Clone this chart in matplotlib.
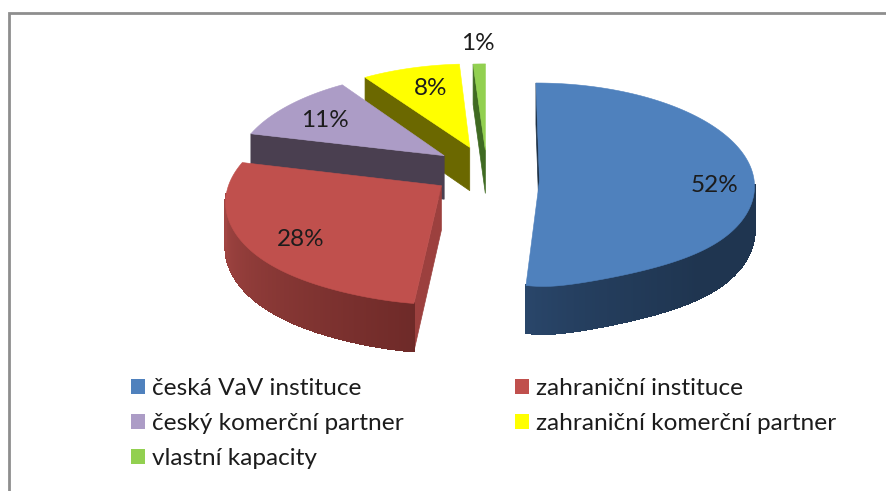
"""Exploded 3-D style pie: podíl partnerů, drawn by hand on a pixel-sized axes."""
import matplotlib
matplotlib.use("Agg")
import matplotlib.pyplot as plt
import numpy as np
from matplotlib.collections import PolyCollection
from matplotlib.colors import to_rgb
from matplotlib.patches import Patch, Polygon

plt.rcParams["font.family"] = ["Lato", "DejaVu Sans"]

categories = ["česká VaV instituce", "zahraniční instituce", "český komerční partner",
              "zahraniční komerční partner", "vlastní kapacity"]
shares = [52, 28, 11, 8, 1]

top_colors = ["#4f81bd", "#c0504d", "#ac9cc6", "#ffff00", "#92d050"]
wall_colors = ["#1c3045", "#9c403e", "#4a3f50", "#6b6800", "#3f6a22"]
rim_right = ["#1f3550", "#6e2a28", "#4a3f50", "#6b6800", "#3f6a22"]
rim_left = ["#2f4f78", "#a34643", "#4a3f50", "#6b6800", "#3f6a22"]

# projection of the unit disc onto the picture
CX, CY = 486, 181
A, B = 214, 101
K = 0.07
DEPTH = 44
EXPLODE = 0.25
APEX_SHIFT = [(0, 3), (-1, -8), (-3, -8), (-1, -8), (0, -5)]
NUDGE = [(0, -5), (2, -1), (3, -2), (1, -2), (1, -1)]
FRONT_SQUEEZE = [0.42, 0.15, 0, 0, 0]
LABEL_XY = [(715, 185), (301, 239), (325, 120), (431, 88), (478, 43)]
LABEL_PT = 17.5
LEGEND_PT = 17.6


def project(u, v, h=0.0):
    w = 1 + K * v
    return CX + A * u / w, CY - B * v / w + h * DEPTH / w


def rim_point(ou, ov, th, i):
    # the front of the picture squeezes the cuts towards the centre line
    squeeze = 1 - FRONT_SQUEEZE[i] * np.clip(-np.cos(th), 0, 1) ** 8
    return ou + np.sin(th) * squeeze, ov + np.cos(th)


def mix(c0, c1, t):
    return tuple((1 - t) * a + t * b for a, b in zip(to_rgb(c0), to_rgb(c1)))


def draw_slice(ax, start, end, i):
    z = 2 + 2 * (len(shares) - i)
    dx, dy = NUDGE[i]
    mid = np.radians((start + end) / 2)
    ou, ov = EXPLODE * np.sin(mid), EXPLODE * np.cos(mid)
    th = np.radians(np.arange(start, end, 0.5).tolist() + [end])
    u, v = rim_point(ou, ov, th, i)
    x, y = project(u, v)
    x, y = x + dx, y + dy
    ax0, ay0 = project(ou, ov)
    ax0, ay0 = ax0 + dx + APEX_SHIFT[i][0], ay0 + dy + APEX_SHIFT[i][1]
    depth0 = project(ou, ov, 1)[1] - project(ou, ov)[1]

    # wall on the leading cut edge
    y1b = project(u[0], v[0], 1)[1] + dy
    ax.add_patch(Polygon([(ax0, ay0), (x[0], y[0]), (x[0], y1b), (ax0, ay0 + depth0)],
                         closed=True, fc=wall_colors[i], ec=wall_colors[i], lw=0.5, zorder=z))

    # outer rim, front half only, shaded strip by strip
    keep = (th >= np.radians(94)) & (th <= 3 * np.pi / 2)
    if keep.sum() > 1:
        tk = th[keep]
        uk, vk = rim_point(ou, ov, tk, i)
        xt, yt = project(uk, vk)
        xb, yb = project(uk, vk, 1)
        xt, xb, yt, yb = xt + dx, xb + dx, yt + dy, yb + dy
        quads, cols = [], []
        for j in range(len(tk) - 1):
            quads.append([(xt[j], yt[j]), (xt[j + 1], yt[j + 1]), (xb[j + 1], yb[j + 1]), (xb[j], yb[j])])
            deg = np.degrees(tk[j])
            t = (deg - 187) / 83 if i == 1 else min(1, max(0, ((deg - 90) / 180 - 0.25) * 2.2))
            cols.append(mix(rim_right[i], rim_left[i], t))
        ax.add_collection(PolyCollection(quads, facecolors=cols, edgecolors=cols, linewidths=1.0,
                                         antialiaseds=False, zorder=z))

    ax.add_patch(Polygon([(ax0, ay0)] + list(zip(x, y)), closed=True, fc=top_colors[i],
                         ec=top_colors[i], lw=0.4, zorder=z + 1))


fig = plt.figure(figsize=(8.86, 4.91), dpi=100)
ax = fig.add_axes([0, 0, 1, 1])
ax.set_xlim(0, 886)
ax.set_ylim(491, 0)
ax.axis("off")

# chart frame, cut off by the screenshot on the right and at the bottom
ax.plot([9, 9, 886], [491, 13, 13], color="#8e8e8e", lw=2.0, solid_joinstyle="miter")

edges = np.concatenate([[0], np.cumsum(shares)]) * 3.6
for i in range(len(shares)):
    draw_slice(ax, edges[i], edges[i + 1], i)

for (lx, ly), s in zip(LABEL_XY, shares):
    ax.text(lx, ly, f"{s}%", ha="center", va="center", fontsize=LABEL_PT, color="#1c1c1c", zorder=30)

handles = [Patch(fc=c, ec="none") for c in top_colors]
order = [0, 2, 4, 1, 3]
leg = ax.legend([handles[k] for k in order], [categories[k] for k in order], ncol=2,
                loc="upper left", bbox_to_anchor=(109 / 886, 1 - 356 / 491), frameon=False,
                fontsize=LEGEND_PT, handlelength=0.58, handleheight=0.58, handletextpad=0.28,
                labelspacing=0.58, columnspacing=4.55, labelcolor="#1c1c1c")

fig.savefig("out.png", dpi=100, facecolor="white")
